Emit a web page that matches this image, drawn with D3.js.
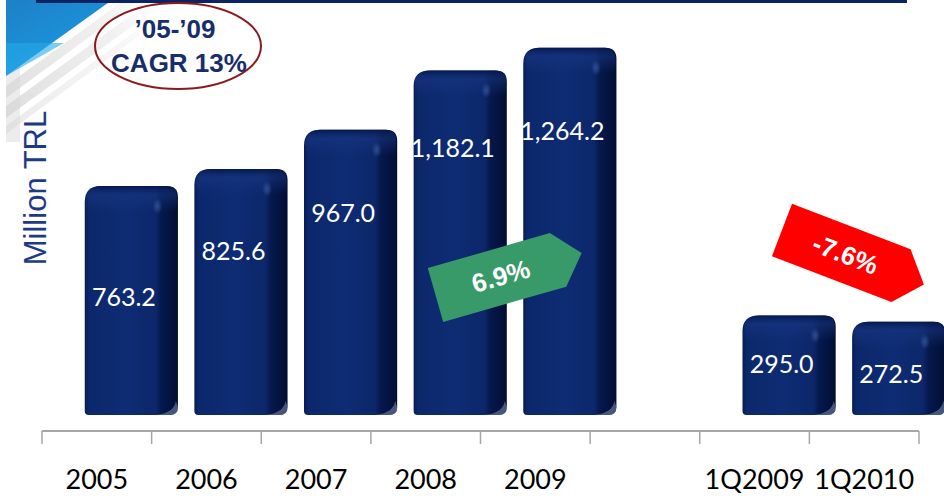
<!DOCTYPE html>
<html>
<head>
<meta charset="utf-8">
<script src="https://cdn.jsdelivr.net/npm/d3@7/dist/d3.min.js"></script>
<style>
  html, body { margin: 0; padding: 0; background: #ffffff; }
  svg { display: block; }
</style>
</head>
<body>
<svg id="chart" width="944" height="500"></svg>
<script>
// Net sales by period (Million TRL); the blank slot separates years from quarters
const periods = ["2005", "2006", "2007", "2008", "2009", "gap", "1Q2009", "1Q2010"];
const periodLabels = ["2005", "2006", "2007", "2008", "2009", "", "1Q2009", "1Q2010"];
const sales = [763.2, 825.6, 967.0, 1182.1, 1264.2, null, 295.0, 272.5];
const cagrLines = ["\u201905-\u201909", "CAGR 13%"];
const growthLabels = ["6.9%", "-7.6%"];
const axisTitle = "Million TRL";

// value-label nudges (px below each bar's top)
const labelDy = [120, 91, 92, 87, 92, 0, 58, 61];

const W = 944, H = 500;
const svg = d3.select("#chart");
const defs = svg.append("defs");

svg.append("rect").attr("width", W).attr("height", H).attr("fill", "#ffffff");

// ---- corner decoration ----
const blueGrad = defs.append("linearGradient").attr("id", "blueCorner")
  .attr("x1", "0").attr("y1", "0").attr("x2", "0.6").attr("y2", "1");
blueGrad.append("stop").attr("offset", "0%").attr("stop-color", "#1f7fc6");
blueGrad.append("stop").attr("offset", "55%").attr("stop-color", "#1b8fd6");
blueGrad.append("stop").attr("offset", "100%").attr("stop-color", "#22a6e6");

const stripeFade = defs.append("linearGradient").attr("id", "stripeFade")
  .attr("gradientUnits", "userSpaceOnUse")
  .attr("x1", 6).attr("y1", 140).attr("x2", 170).attr("y2", 0);
stripeFade.append("stop").attr("offset", "0%").attr("stop-color", "#d4d4d4").attr("stop-opacity", 0.85);
stripeFade.append("stop").attr("offset", "70%").attr("stop-color", "#e2e2e2").attr("stop-opacity", 0.5);
stripeFade.append("stop").attr("offset", "100%").attr("stop-color", "#f0f0f0").attr("stop-opacity", 0);

const deco = svg.append("g");
deco.append("rect").attr("x", 6).attr("y", 60).attr("width", 14).attr("height", 82)
  .attr("fill", "#ececec");
deco.append("path").attr("d", "M6,0 L112,0 L6,76 Z").attr("fill", "url(#blueCorner)");
deco.append("path").attr("d", "M6,43 L64,43 L6,76 Z").attr("fill", "#25a8e8").attr("opacity", 0.6);
deco.append("path").attr("d", "M6,86 L124,0 L140,0 L6,98 Z").attr("fill", "url(#stripeFade)");
deco.append("path").attr("d", "M6,106 L152,0 L168,0 L6,118 Z").attr("fill", "url(#stripeFade)");
deco.append("path").attr("d", "M6,126 L178,0 L188,0 L6,134 Z").attr("fill", "url(#stripeFade)").attr("opacity", 0.6);

// top rule
svg.append("rect").attr("x", 36).attr("y", 0).attr("width", 871).attr("height", 3).attr("fill", "#0b2263");

// ---- scales ----
const x = d3.scaleBand().domain(periods).range([42, 919]).padding(0);
const y = d3.scaleLinear().domain([0, 1300]).range([397, 37.8]);
const floorY = 415;            // bars sit on a floor below the value baseline (3D depth)
const bw = x.bandwidth();
const barX = p => x(p) + bw * 0.39;
const barW = bw * 0.85;

// ---- bar shading ----
const faceGrad = defs.append("linearGradient").attr("id", "barFace")
  .attr("x1", "0").attr("y1", "0").attr("x2", "1").attr("y2", "0");
[["0%", "#081c56"], ["5%", "#0c286c"], ["45%", "#0e2c74"], ["76%", "#0c276a"],
 ["82%", "#06194d"], ["92%", "#03123f"], ["100%", "#020e31"]]
  .forEach(([o, c]) => faceGrad.append("stop").attr("offset", o).attr("stop-color", c));

const topGrad = defs.append("linearGradient").attr("id", "barTop")
  .attr("x1", "0").attr("y1", "0").attr("x2", "0").attr("y2", "1");
topGrad.append("stop").attr("offset", "0%").attr("stop-color", "#04164a").attr("stop-opacity", 0.9);
topGrad.append("stop").attr("offset", "35%").attr("stop-color", "#193884").attr("stop-opacity", 0.5);
topGrad.append("stop").attr("offset", "100%").attr("stop-color", "#193884").attr("stop-opacity", 0);

const glint = defs.append("radialGradient").attr("id", "glint");
glint.append("stop").attr("offset", "0%").attr("stop-color", "#3c5ea2").attr("stop-opacity", 0.7);
glint.append("stop").attr("offset", "100%").attr("stop-color", "#3c5ea2").attr("stop-opacity", 0);

function barPath(x0, y0, w, y1) {
  const rl = 16, rr = 11, rb = 4;
  return `M${x0},${y1 - rb}` +
    ` L${x0},${y0 + rl} Q${x0},${y0} ${x0 + rl},${y0}` +
    ` L${x0 + w - rr},${y0} Q${x0 + w},${y0} ${x0 + w},${y0 + rr}` +
    ` L${x0 + w},${y1 - 8} Q${x0 + w},${y1} ${x0 + w - 8},${y1}` +
    ` L${x0 + rb},${y1} Q${x0},${y1} ${x0},${y1 - rb} Z`;
}

const rows = periods.map((p, i) => ({ p, v: sales[i], dy: labelDy[i] })).filter(d => d.v != null);

const bars = svg.append("g").selectAll("g.bar").data(rows).join("g").attr("class", "bar");

bars.append("path")
  .attr("d", d => barPath(barX(d.p), y(d.v), barW, floorY))
  .attr("fill", "url(#barFace)");

bars.append("path")
  .attr("d", d => barPath(barX(d.p) + 1, y(d.v), barW - 2, Math.min(y(d.v) + 26, floorY)))
  .attr("fill", "url(#barTop)");

bars.append("ellipse")
  .attr("cx", d => barX(d.p) + barW * 0.78)
  .attr("cy", d => y(d.v) + 20)
  .attr("rx", 5).attr("ry", 8)
  .attr("fill", "url(#glint)");

// lighter foot at the lower right edge
bars.append("path")
  .attr("d", d => {
    const x1 = barX(d.p) + barW, yb = floorY;
    return `M${x1 - 2},${yb - 14} Q${x1 - 4},${yb - 2} ${x1 - 22},${yb} L${x1 - 8},${yb} Q${x1},${yb} ${x1},${yb - 8} Z`;
  })
  .attr("fill", "#7d8fb5").attr("opacity", 0.55);

const fmt = d3.format(",.1f");
bars.append("text")
  .attr("x", d => barX(d.p) + barW * 0.42)
  .attr("y", d => y(d.v) + d.dy)
  .attr("text-anchor", "middle")
  .attr("font-family", "Lato, 'Open Sans', sans-serif")
  .attr("font-size", 25)
  .attr("fill", "#ffffff")
  .text(d => fmt(d.v));

// ---- axis ----
const axisY = 431;
const axisG = svg.append("g");
axisG.append("line")
  .attr("x1", x.range()[0]).attr("x2", x.range()[1])
  .attr("y1", axisY).attr("y2", axisY)
  .attr("stroke", "#a6a6a6").attr("stroke-width", 2);
const boundaries = periods.map(p => x(p)).concat([x.range()[1]]);
axisG.selectAll("line.tick").data(boundaries).join("line").attr("class", "tick")
  .attr("x1", d => d).attr("x2", d => d)
  .attr("y1", axisY).attr("y2", axisY + 13)
  .attr("stroke", "#a6a6a6").attr("stroke-width", 1.5);

const labelAxis = d3.axisBottom(x).tickSize(0).tickFormat((d, i) => periodLabels[i]);
const lab = svg.append("g").attr("transform", `translate(0,${axisY})`).call(labelAxis);
lab.select(".domain").remove();
lab.selectAll("text")
  .attr("y", 58).attr("dy", 0)
  .attr("font-family", "Lato, 'Open Sans', sans-serif")
  .attr("font-size", 27)
  .attr("fill", "#000000");

// ---- axis title ----
svg.append("text")
  .attr("transform", "translate(46,188) rotate(-90)")
  .attr("text-anchor", "middle")
  .attr("font-family", "'Liberation Sans', Arial, sans-serif")
  .attr("font-size", 31)
  .attr("fill", "#1e3a86")
  .text(axisTitle);

// ---- CAGR badge ----
const badge = svg.append("g");
badge.append("ellipse")
  .attr("cx", 178).attr("cy", 46).attr("rx", 83).attr("ry", 43)
  .attr("fill", "none").attr("stroke", "#8b1a1e").attr("stroke-width", 2);
badge.selectAll("text").data(cagrLines).join("text")
  .attr("x", (d, i) => i === 0 ? 175 : 179)
  .attr("y", (d, i) => i === 0 ? 38 : 72)
  .attr("text-anchor", "middle")
  .attr("font-family", "'Liberation Sans', Arial, sans-serif")
  .attr("font-weight", "bold")
  .attr("font-size", 26)
  .attr("fill", "#172e6b")
  .text(d => d);

// ---- growth arrows ----
const arrowShape = "M0,-28 L127,-28 L152,0 L128,28 L0,28 Z";
const arrows = [
  { tx: 435.5, ty: 295, angle: -16, fill: "#379a68", label: growthLabels[0] },
  { tx: 782, ty: 230, angle: 21, fill: "#ff0000", label: growthLabels[1] }
];
const ag = svg.append("g").selectAll("g").data(arrows).join("g")
  .attr("transform", d => `translate(${d.tx},${d.ty}) rotate(${d.angle})`);
ag.append("path").attr("d", arrowShape).attr("fill", d => d.fill);
ag.append("text")
  .attr("x", 68).attr("y", 9)
  .attr("text-anchor", "middle")
  .attr("font-family", "'Liberation Sans', Arial, sans-serif")
  .attr("font-weight", "bold")
  .attr("font-size", 26)
  .attr("fill", "#ffffff")
  .text(d => d.label);
</script>
</body>
</html>
